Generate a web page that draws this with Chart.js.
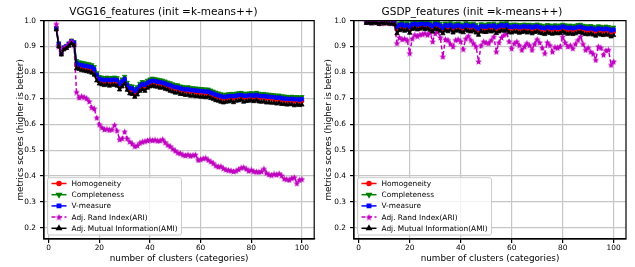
<!DOCTYPE html>
<html><head><meta charset="utf-8">
<script src="https://cdn.jsdelivr.net/npm/chart.js@4/dist/chart.umd.min.js"></script>
<style>
html,body{margin:0;padding:0;background:#fff;}
#wrap{position:relative;width:635px;height:267px;overflow:hidden;background:#fff;}
canvas{position:absolute;top:0;}
#c1{left:0;} #c2{left:318px;}
</style></head><body>
<div id="wrap"><canvas id="c1" width="318" height="267"></canvas><canvas id="c2" width="317" height="267"></canvas></div>
<script>
// ---------------- data ----------------
const CLUSTERS = [3,4,5,6,7,8,9,10,11,12,13,14,15,16,17,18,19,20,21,22,23,24,25,26,27,28,29,30,31,32,33,34,35,36,37,38,39,40,41,42,43,44,45,46,47,48,49,50,51,52,53,54,55,56,57,58,59,60,61,62,63,64,65,66,67,68,69,70,71,72,73,74,75,76,77,78,79,80,81,82,83,84,85,86,87,88,89,90,91,92,93,94,95,96,97,98,99,100];
const TICKS_X = [0,20,40,60,80,100];
const TICKS_Y = [0.2,0.3,0.4,0.5,0.6,0.7,0.8,0.9,1.0];
const SERIES_NAMES = ['Homogeneity','Completeness','V-measure','Adj. Rand Index(ARI)','Adj. Mutual Information(AMI)'];
const TITLES = ['VGG16_features (init =k-means++)','GSDP_features (init =k-means++)'];

// VGG16 features
const VGG_HOMOGENEITY = [0.968,0.907,0.872,0.892,0.897,0.907,0.916,0.912,
0.826,0.821,0.819,0.815,0.816,0.813,0.811,0.803,0.782,0.767,
0.764,0.762,0.764,0.762,0.763,0.764,0.762,0.747,0.757,0.767,
0.744,0.732,0.730,0.720,0.727,0.740,0.747,0.744,0.752,0.757,
0.760,0.758,0.756,0.754,0.752,0.749,0.745,0.742,0.738,0.735,
0.734,0.730,0.728,0.726,0.727,0.724,0.723,0.722,0.721,0.720,
0.719,0.718,0.718,0.714,0.710,0.706,0.703,0.700,0.697,0.698,
0.700,0.701,0.700,0.702,0.704,0.705,0.702,0.701,0.703,0.704,
0.702,0.705,0.702,0.700,0.701,0.699,0.698,0.697,0.696,0.694,
0.695,0.692,0.691,0.690,0.689,0.690,0.688,0.689,0.687,0.689];
const VGG_COMPLETENESS = [0.972,0.913,0.878,0.898,0.903,0.913,0.924,0.918,
0.845,0.840,0.838,0.836,0.834,0.832,0.829,0.822,0.798,0.783,
0.781,0.779,0.781,0.779,0.780,0.781,0.779,0.764,0.774,0.784,
0.761,0.749,0.747,0.737,0.744,0.757,0.764,0.761,0.769,0.774,
0.777,0.775,0.773,0.771,0.769,0.766,0.762,0.759,0.755,0.752,
0.751,0.747,0.745,0.743,0.744,0.741,0.740,0.739,0.738,0.737,
0.736,0.735,0.735,0.731,0.727,0.723,0.720,0.717,0.714,0.715,
0.717,0.718,0.717,0.719,0.721,0.722,0.719,0.718,0.720,0.721,
0.719,0.722,0.719,0.717,0.718,0.716,0.715,0.714,0.713,0.711,
0.712,0.709,0.708,0.707,0.706,0.707,0.705,0.706,0.704,0.706];
const VGG_VMEASURE = [0.970,0.910,0.875,0.895,0.900,0.910,0.920,0.915,
0.835,0.830,0.828,0.825,0.825,0.822,0.820,0.812,0.790,0.775,
0.772,0.770,0.772,0.770,0.771,0.772,0.770,0.755,0.765,0.775,
0.752,0.740,0.738,0.728,0.735,0.748,0.755,0.752,0.760,0.765,
0.768,0.766,0.764,0.762,0.760,0.757,0.753,0.750,0.746,0.743,
0.742,0.738,0.736,0.734,0.735,0.732,0.731,0.730,0.729,0.728,
0.727,0.726,0.726,0.722,0.718,0.714,0.711,0.708,0.705,0.706,
0.708,0.709,0.708,0.710,0.712,0.713,0.710,0.709,0.711,0.712,
0.710,0.713,0.710,0.708,0.709,0.707,0.706,0.705,0.704,0.702,
0.703,0.700,0.699,0.698,0.697,0.698,0.696,0.697,0.695,0.697];
const VGG_ARI = [0.987,0.900,0.880,0.895,0.900,0.910,0.920,0.905,
0.724,0.703,0.708,0.705,0.700,0.688,0.665,0.660,0.625,0.600,
0.588,0.580,0.582,0.578,0.580,0.597,0.575,0.542,0.545,0.571,
0.545,0.533,0.525,0.515,0.518,0.528,0.532,0.535,0.537,0.540,
0.538,0.540,0.536,0.537,0.542,0.530,0.520,0.515,0.505,0.498,
0.490,0.488,0.482,0.480,0.483,0.478,0.481,0.482,0.462,0.465,
0.468,0.470,0.462,0.456,0.450,0.440,0.436,0.438,0.430,0.425,
0.423,0.421,0.418,0.420,0.426,0.432,0.434,0.428,0.420,0.424,
0.418,0.417,0.416,0.418,0.428,0.412,0.406,0.404,0.408,0.405,
0.410,0.402,0.390,0.388,0.385,0.392,0.395,0.372,0.385,0.388];
const VGG_AMI = [0.965,0.900,0.868,0.888,0.893,0.902,0.912,0.905,
0.815,0.812,0.808,0.806,0.804,0.802,0.798,0.790,0.768,0.756,
0.753,0.750,0.754,0.748,0.752,0.751,0.748,0.733,0.745,0.756,
0.732,0.718,0.716,0.705,0.714,0.728,0.735,0.728,0.740,0.745,
0.748,0.745,0.744,0.740,0.741,0.736,0.733,0.728,0.725,0.721,
0.722,0.716,0.716,0.712,0.714,0.709,0.711,0.707,0.708,0.705,
0.706,0.703,0.706,0.700,0.697,0.692,0.690,0.686,0.683,0.686,
0.687,0.690,0.684,0.690,0.691,0.694,0.686,0.689,0.690,0.692,
0.688,0.693,0.687,0.686,0.688,0.683,0.684,0.682,0.683,0.679,
0.682,0.677,0.678,0.675,0.676,0.677,0.672,0.676,0.673,0.675];

// GSDP features
const GSDP_HOMOGENEITY = [0.993,0.994,0.992,0.995,0.993,0.990,0.994,0.991,
0.993,0.990,0.991,0.989,0.966,0.974,0.977,0.972,0.975,0.966,
0.977,0.980,0.976,0.978,0.980,0.977,0.979,0.975,0.969,0.978,
0.977,0.972,0.963,0.974,0.971,0.975,0.966,0.972,0.974,0.970,
0.967,0.975,0.972,0.970,0.973,0.966,0.959,0.971,0.969,0.968,
0.972,0.970,0.973,0.965,0.970,0.974,0.972,0.975,0.967,0.966,
0.970,0.969,0.965,0.968,0.970,0.966,0.969,0.964,0.968,0.970,
0.965,0.963,0.961,0.966,0.964,0.962,0.965,0.963,0.964,0.969,
0.965,0.962,0.964,0.961,0.963,0.966,0.967,0.963,0.961,0.960,
0.962,0.959,0.956,0.961,0.959,0.957,0.960,0.958,0.953,0.956];
const GSDP_COMPLETENESS = [0.997,0.998,0.996,0.999,0.997,0.996,0.998,0.997,
0.997,0.996,0.997,0.995,0.984,0.990,0.993,0.988,0.991,0.984,
0.993,0.996,0.992,0.994,0.996,0.993,0.995,0.991,0.987,0.994,
0.993,0.988,0.981,0.990,0.987,0.991,0.984,0.988,0.990,0.986,
0.985,0.991,0.988,0.986,0.989,0.984,0.977,0.987,0.985,0.984,
0.988,0.986,0.989,0.983,0.986,0.990,0.988,0.991,0.985,0.984,
0.986,0.985,0.983,0.984,0.986,0.984,0.985,0.982,0.984,0.986,
0.983,0.981,0.979,0.984,0.982,0.980,0.983,0.981,0.982,0.985,
0.983,0.980,0.982,0.979,0.981,0.984,0.985,0.981,0.979,0.978,
0.980,0.977,0.974,0.979,0.977,0.975,0.978,0.976,0.971,0.974];
const GSDP_VMEASURE = [0.995,0.996,0.994,0.997,0.995,0.993,0.996,0.994,
0.995,0.993,0.994,0.992,0.975,0.982,0.985,0.980,0.983,0.975,
0.985,0.988,0.984,0.986,0.988,0.985,0.987,0.983,0.978,0.986,
0.985,0.980,0.972,0.982,0.979,0.983,0.975,0.980,0.982,0.978,
0.976,0.983,0.980,0.978,0.981,0.975,0.968,0.979,0.977,0.976,
0.980,0.978,0.981,0.974,0.978,0.982,0.980,0.983,0.976,0.975,
0.978,0.977,0.974,0.976,0.978,0.975,0.977,0.973,0.976,0.978,
0.974,0.972,0.970,0.975,0.973,0.971,0.974,0.972,0.973,0.977,
0.974,0.971,0.973,0.970,0.972,0.975,0.976,0.972,0.970,0.969,
0.971,0.968,0.965,0.970,0.968,0.966,0.969,0.967,0.962,0.965];
const GSDP_ARI = [0.995,0.997,0.994,0.996,0.993,0.995,0.990,0.994,
0.992,0.995,0.990,0.988,0.913,0.935,0.928,0.930,0.925,0.874,
0.930,0.945,0.940,0.946,0.948,0.951,0.945,0.953,0.919,0.950,
0.958,0.935,0.861,0.928,0.925,0.910,0.900,0.925,0.928,0.920,
0.890,0.930,0.941,0.925,0.913,0.900,0.842,0.905,0.919,0.915,
0.913,0.925,0.938,0.880,0.915,0.935,0.945,0.951,0.920,0.893,
0.912,0.919,0.905,0.887,0.900,0.913,0.905,0.887,0.910,0.928,
0.915,0.895,0.874,0.916,0.905,0.880,0.898,0.895,0.900,0.938,
0.915,0.900,0.905,0.893,0.910,0.925,0.938,0.910,0.887,0.895,
0.880,0.872,0.848,0.900,0.895,0.868,0.885,0.887,0.829,0.842];
const GSDP_AMI = [0.990,0.992,0.988,0.993,0.990,0.986,0.992,0.988,
0.991,0.987,0.988,0.986,0.950,0.962,0.966,0.960,0.964,0.952,
0.967,0.970,0.965,0.968,0.971,0.966,0.969,0.964,0.957,0.968,
0.966,0.960,0.950,0.963,0.958,0.964,0.953,0.960,0.963,0.957,
0.954,0.964,0.960,0.957,0.961,0.953,0.944,0.959,0.956,0.955,
0.960,0.957,0.961,0.951,0.957,0.962,0.960,0.964,0.954,0.953,
0.958,0.956,0.952,0.955,0.958,0.953,0.956,0.950,0.955,0.958,
0.952,0.950,0.947,0.954,0.951,0.948,0.952,0.950,0.951,0.957,
0.952,0.948,0.951,0.947,0.950,0.954,0.955,0.950,0.947,0.946,
0.949,0.945,0.941,0.948,0.945,0.943,0.947,0.944,0.938,0.943];

// ---------------- styling ----------------
const FONT = '"DejaVu Sans", "Liberation Sans", sans-serif';
Chart.defaults.font.family = FONT;
Chart.defaults.color = '#000';

function makeStar(color, size){
  const c = document.createElement('canvas'); c.width = size; c.height = size;
  const g = c.getContext('2d'); const cx = size/2, cy = size/2 + 0.3, R = size/2, r = R*0.45;
  g.beginPath();
  for (let i = 0; i < 10; i++) {
    const a = -Math.PI/2 + i*Math.PI/5; const rr = (i % 2) ? r : R;
    g.lineTo(cx + rr*Math.cos(a), cy + rr*Math.sin(a));
  }
  g.closePath(); g.fillStyle = color; g.fill();
  return c;
}
const STAR = makeStar('#bf00bf', 7);

function pts(arr){ return CLUSTERS.map((k,i)=>({x:k, y:arr[i]})); }
function makeDatasets(h,c,v,ari,ami){
  const base = {borderWidth:1.5, pointBorderWidth:0.8, pointHoverRadius:0, tension:0, fill:false};
  return [
    Object.assign({}, base, {label:SERIES_NAMES[0], data:pts(h), borderColor:'#ff0000', backgroundColor:'#ff0000', pointBackgroundColor:'#ff0000', pointBorderColor:'#ff0000', pointStyle:'circle', pointRadius:2, order:5}),
    Object.assign({}, base, {label:SERIES_NAMES[1], data:pts(c), borderColor:'#008000', backgroundColor:'#008000', pointBackgroundColor:'#008000', pointBorderColor:'#008000', pointStyle:'triangle', pointRotation:180, pointRadius:2.5, order:4}),
    Object.assign({}, base, {label:SERIES_NAMES[2], data:pts(v), borderColor:'#0000ff', backgroundColor:'#0000ff', pointBackgroundColor:'#0000ff', pointBorderColor:'#0000ff', pointStyle:'rect', pointRadius:2.4, order:3}),
    Object.assign({}, base, {label:SERIES_NAMES[3], data:pts(ari), borderColor:'#bf00bf', backgroundColor:'#bf00bf', pointBackgroundColor:'#bf00bf', pointBorderColor:'#bf00bf', pointStyle:STAR, pointRadius:3, borderDash:[4,2.5], order:2}),
    Object.assign({}, base, {label:SERIES_NAMES[4], data:pts(ami), borderColor:'#000000', backgroundColor:'#000000', pointBackgroundColor:'#000000', pointBorderColor:'#000000', pointStyle:'triangle', pointRadius:2.5, order:1})
  ];
}

const frame = {
  id:'frame',
  afterDatasetsDraw(chart){
    const a = chart.chartArea, ctx = chart.ctx;
    ctx.save(); ctx.strokeStyle = '#000'; ctx.lineWidth = 1.2;
    ctx.strokeRect(a.left, a.top, a.right - a.left, a.bottom - a.top);
    ctx.restore();
  }
};
const boxLegend = {
  id:'boxLegend',
  afterDraw(chart){
    const ctx = chart.ctx, a = chart.chartArea;
    const w = 134, rowH = 11.2, h = 57.3;
    const x0 = a.left + 3.5, y0 = a.bottom - 4 - h;
    ctx.save();
    ctx.beginPath();
    const r = 2;
    ctx.moveTo(x0+r, y0); ctx.lineTo(x0+w-r, y0); ctx.arcTo(x0+w, y0, x0+w, y0+r, r);
    ctx.lineTo(x0+w, y0+h-r); ctx.arcTo(x0+w, y0+h, x0+w-r, y0+h, r);
    ctx.lineTo(x0+r, y0+h); ctx.arcTo(x0, y0+h, x0, y0+h-r, r);
    ctx.lineTo(x0, y0+r); ctx.arcTo(x0, y0, x0+r, y0, r); ctx.closePath();
    ctx.fillStyle = 'rgba(255,255,255,0.8)'; ctx.fill();
    ctx.strokeStyle = '#cccccc'; ctx.lineWidth = 1; ctx.stroke();
    chart.data.datasets.forEach((ds, i) => {
      const y = y0 + 5.8 + i*rowH;
      ctx.setLineDash(ds.borderDash || []);
      ctx.strokeStyle = ds.borderColor; ctx.lineWidth = 1.5;
      ctx.beginPath(); ctx.moveTo(x0+4, y); ctx.lineTo(x0+19, y); ctx.stroke();
      ctx.setLineDash([]);
      ctx.fillStyle = ds.pointBackgroundColor; ctx.strokeStyle = ds.pointBorderColor;
      Chart.helpers.drawPoint(ctx, {pointStyle: ds.pointStyle, rotation: ds.pointRotation || 0, radius: ds.pointRadius, borderWidth: 0.8}, x0+11.5, y);
      ctx.fillStyle = '#000'; ctx.font = '7.4px ' + FONT; ctx.textBaseline = 'middle'; ctx.textAlign = 'left';
      ctx.fillText(ds.label, x0+24, y + 0.5);
    });
    ctx.restore();
  }
};

function makeChart(id, title, datasets, pad, yWidth){
  return new Chart(document.getElementById(id), {
    type:'line',
    data:{datasets},
    options:{
      responsive:false, animation:false, devicePixelRatio:1,
      layout:{padding:pad},
      plugins:{
        legend:{display:false}, tooltip:{enabled:false},
        title:{display:true, text:title, color:'#000', font:{family:FONT, size:10.5, weight:'normal'}, padding:{top:6, bottom:2}}
      },
      scales:{
        x:{type:'linear', min:-1.85, max:104.85,
          afterBuildTicks(s){ s.ticks = TICKS_X.map(v=>({value:v})); },
          afterFit(s){ s.height = 28; },
          ticks:{font:{size:7.4}, color:'#000', padding:1, maxRotation:0, callback:v=>String(v)},
          grid:{color:'#c6c6c6', lineWidth:1.2, tickLength:4, tickColor:'#000', drawTicks:true},
          border:{display:true, color:'#000', width:1.2},
          title:{display:true, text:'number of clusters (categories)', font:{size:8.8}, color:'#000', padding:{top:0, bottom:3.5}}
        },
        y:{type:'linear', min:0.157, max:1.0,
          afterBuildTicks(s){ s.ticks = TICKS_Y.map(v=>({value:v})); },
          afterFit(s){ s.width = yWidth; },
          ticks:{font:{size:7.4}, color:'#000', padding:4, callback:v=>v.toFixed(1)},
          grid:{color:'#c6c6c6', lineWidth:1.2, tickLength:4, tickColor:'#000', drawTicks:true},
          border:{display:true, color:'#000', width:1.2},
          title:{display:true, text:'metrics scores (higher is better)', font:{size:8.8}, color:'#000', padding:{top:5, bottom:0}}
        }
      }
    },
    plugins:[frame, boxLegend]
  });
}

makeChart('c1', TITLES[0], makeDatasets(VGG_HOMOGENEITY, VGG_COMPLETENESS, VGG_VMEASURE, VGG_ARI, VGG_AMI), {left:10, right:1, top:0, bottom:0}, 34);
makeChart('c2', TITLES[1], makeDatasets(GSDP_HOMOGENEITY, GSDP_COMPLETENESS, GSDP_VMEASURE, GSDP_ARI, GSDP_AMI), {left:0, right:9, top:0, bottom:0}, 36);
</script>
</body></html>
